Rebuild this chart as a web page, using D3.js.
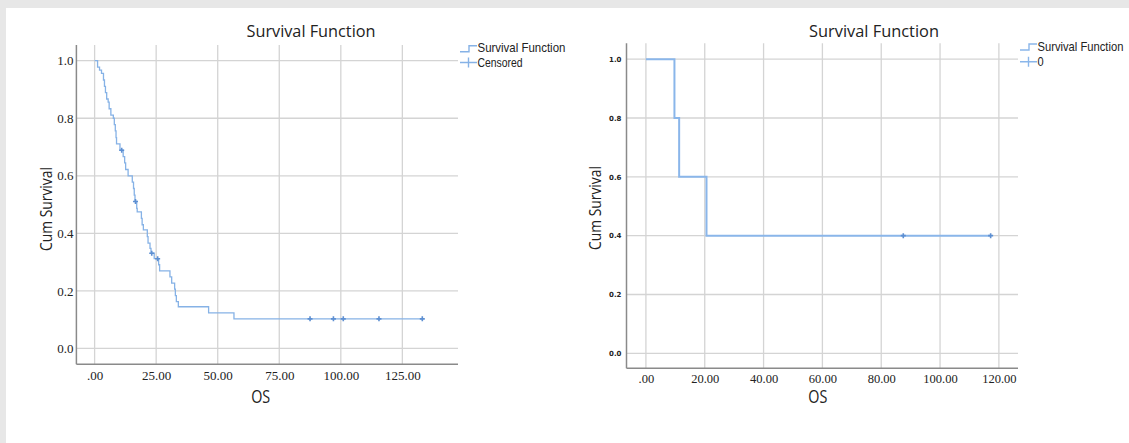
<!DOCTYPE html>
<html><head><meta charset="utf-8">
<script src="https://cdn.jsdelivr.net/npm/d3@7"></script>
<style>
html,body{margin:0;padding:0;background:#fff;}
svg{display:block;}
text{font-family:"Open Sans","Noto Sans",sans-serif;fill:#222;}
</style></head>
<body>
<svg id="chart" width="1129" height="443"></svg>
<script>
// ---------- data ----------
const chartTitle = "Survival Function";
const xLabel = "OS";
const yLabel = "Cum Survival";

// Left panel: Kaplan-Meier steps (time, cumulative survival after the step)
const leftTimes = [0, 1.2, 2.0, 2.8, 3.6, 4.0, 4.4, 4.9, 5.5, 5.9, 6.6, 7.6, 8.0, 8.4, 8.7, 8.9, 10.3, 11.6, 12.2, 12.6, 13.6, 15.3, 15.8, 16.1, 16.4, 17.1, 17.3, 19.0, 19.3, 19.8, 21.4, 21.7, 22.5, 22.9, 24.2, 26.0, 26.4, 30.6, 31.3, 32.5, 32.8, 33.2, 34.0, 46.3, 56.6];
const leftSurv  = [1.0, 0.978, 0.967, 0.956, 0.933, 0.911, 0.889, 0.867, 0.856, 0.833, 0.811, 0.800, 0.778, 0.756, 0.733, 0.711, 0.689, 0.667, 0.645, 0.622, 0.600, 0.578, 0.556, 0.533, 0.511, 0.487, 0.475, 0.452, 0.430, 0.412, 0.389, 0.366, 0.348, 0.331, 0.312, 0.291, 0.270, 0.249, 0.227, 0.206, 0.184, 0.163, 0.145, 0.124, 0.103];
const leftEnd = 133.1;
const leftCensTimes = [11.0, 16.6, 23.2, 25.6, 87.5, 97.0, 101.0, 115.5, 133.1];
const leftCensSurv  = [0.689, 0.511, 0.331, 0.312, 0.103, 0.103, 0.103, 0.103, 0.103];
const leftXTicks = [0, 25, 50, 75, 100, 125];
const leftLegend = ["Survival Function", "Censored"];

// Right panel
const rightTimes = [0, 9.7, 11.3, 20.6];
const rightSurv  = [1.0, 0.8, 0.6, 0.4];
const rightEnd = 117.2;
const rightCensTimes = [87.5, 117.2];
const rightCensSurv  = [0.4, 0.4];
const rightXTicks = [0, 20, 40, 60, 80, 100, 120];
const rightLegend = ["Survival Function", "0"];

const yTicks = [0, 0.2, 0.4, 0.6, 0.8, 1.0];

// ---------- drawing ----------
const svg = d3.select("#chart");
svg.append("rect").attr("x",0).attr("y",0).attr("width",1129).attr("height",443).attr("fill","#e7e7e7");
svg.append("rect").attr("x",6).attr("y",8).attr("width",1123).attr("height",435).attr("fill","#fff");

// condensed text: draw at natural width, then squeeze horizontally to a target width
function narrowText(parent, x, y, str, size, targetW){
  const g = parent.append("g").attr("transform",`translate(${x},${y})`);
  const t = g.append("text").style("font-family","'Liberation Sans',Arial,sans-serif").style("font-size",size+"px").text(str);
  const w = t.node().getComputedTextLength();
  const s = targetW ? Math.min(1, targetW / w) : 0.85;
  t.attr("transform",`scale(${s},1)`);
  return t;
}

function panel(cfg){
  const g = svg.append("g");
  const x = d3.scaleLinear().domain(cfg.xDom).range([cfg.left, cfg.right]);
  const y = d3.scaleLinear().domain(cfg.yDom).range([cfg.bottom, cfg.top]);
  const grid = "#d4d4d4";
  g.selectAll(".hg").data(yTicks).join("line")
    .attr("x1",cfg.left).attr("x2",cfg.right)
    .attr("y1",d=>y(d)).attr("y2",d=>y(d))
    .attr("stroke",grid).attr("stroke-width",1.3);
  g.selectAll(".vg").data(cfg.xTicks).join("line")
    .attr("y1",cfg.top).attr("y2",cfg.bottom)
    .attr("x1",d=>x(d)).attr("x2",d=>x(d))
    .attr("stroke",grid).attr("stroke-width",1.3);
  const yAxis = d3.axisLeft(y).tickValues(yTicks).tickSize(0).tickPadding(cfg.yPad).tickFormat(d3.format(".1f"));
  const yg = g.append("g").attr("transform",`translate(${cfg.left},0)`).call(yAxis);
  yg.select(".domain").remove();
  yg.selectAll("text").style("font-family",cfg.yFont).style("font-size",cfg.yFontSize+"px")
    .style("font-weight",cfg.yWeight).attr("fill","#333");
  const xAxis = d3.axisBottom(x).tickValues(cfg.xTicks).tickSize(0).tickPadding(cfg.xPad)
    .tickFormat(d=> d===0 ? ".00" : d3.format(".2f")(d));
  const xg = g.append("g").attr("transform",`translate(0,${cfg.bottom})`).call(xAxis);
  xg.select(".domain").remove();
  xg.selectAll("text").style("font-family","'Liberation Serif',serif").style("font-size",cfg.xFontSize+"px").attr("fill","#333");
  g.append("line").attr("x1",cfg.left).attr("x2",cfg.left).attr("y1",cfg.top).attr("y2",cfg.bottom)
    .attr("stroke","#8a8a8a").attr("stroke-width",1.5);
  g.append("line").attr("x1",cfg.left).attr("x2",cfg.right).attr("y1",cfg.bottom).attr("y2",cfg.bottom)
    .attr("stroke","#8a8a8a").attr("stroke-width",1.5);
  const pts = cfg.times.map((t,i)=>[t,cfg.surv[i]]);
  pts.push([cfg.end, cfg.surv[cfg.surv.length-1]]);
  const line = d3.line().x(d=>x(d[0])).y(d=>y(d[1])).curve(d3.curveStepAfter);
  g.append("path").attr("d",line(pts)).attr("fill","none").attr("stroke",cfg.lineColor).attr("stroke-width",cfg.lineWidth);
  const cens = cfg.censT.map((t,i)=>[t,cfg.censS[i]]);
  g.selectAll(".cm").data(cens).join("path")
    .attr("d",d=>{const cx=x(d[0]), cy=y(d[1]); return `M${cx-2.5},${cy}H${cx+2.5}M${cx},${cy-2.5}V${cy+2.5}`;})
    .attr("stroke","#5d8fd2").attr("stroke-width",1.6);
  g.append("text").attr("x",cfg.titleX).attr("y",37).attr("text-anchor","middle")
    .style("font-size","17px").attr("textLength",cfg.titleW).attr("lengthAdjust","spacingAndGlyphs").text(chartTitle);
  g.append("text").attr("x",cfg.osX).attr("y",403).attr("text-anchor","middle")
    .style("font-size","18px").attr("textLength",19).attr("lengthAdjust","spacingAndGlyphs").text(xLabel);
  g.append("text").attr("transform",`translate(${cfg.ylabX},${cfg.ylabY}) rotate(-90)`).attr("text-anchor","middle")
    .style("font-size","16px").attr("textLength",84).attr("lengthAdjust","spacingAndGlyphs").text(yLabel);
  const lx = cfg.legX, r1 = cfg.legY1, r2 = cfg.legY2;
  g.append("path").attr("d",`M${lx},${r1+4}H${lx+9}V${r1-2}H${lx+17}`).attr("fill","none").attr("stroke",cfg.lineColor).attr("stroke-width",1.4);
  g.append("path").attr("d",`M${lx},${r2}H${lx+17}M${lx+8.5},${r2-5}V${r2+5}`).attr("fill","none").attr("stroke",cfg.lineColor).attr("stroke-width",1.4);
  narrowText(g, lx+17.5, r1+4.5, cfg.legend[0], 13, cfg.legW);
  narrowText(g, lx+17.5, r2+4.5, cfg.legend[1], 13, cfg.legend[1].length > 2 ? 45 : null);
}

panel({
  times:leftTimes, surv:leftSurv, end:leftEnd, censT:leftCensTimes, censS:leftCensSurv,
  xTicks:leftXTicks, legend:leftLegend,
  xDom:[-7.4,147.6], yDom:[-0.055,1.0546], left:76.4, right:458, top:45, bottom:364.3,
  yPad:3, yFont:"'Liberation Serif',serif", yFontSize:13, yWeight:"normal",
  xPad:6, xFontSize:13,
  lineColor:"#86b2e6", lineWidth:1.3,
  titleX:311, titleW:129, osX:260.7, ylabX:51.5, ylabY:209,
  legX:460, legY1:47.7, legY2:62.5, legW:88
});
panel({
  times:rightTimes, surv:rightSurv, end:rightEnd, censT:rightCensTimes, censS:rightCensSurv,
  xTicks:rightXTicks, legend:rightLegend,
  xDom:[-6.6,126.5], yDom:[-0.051,1.054], left:626.5, right:1018, top:43.3, bottom:368.3,
  yPad:5, yFont:"'DejaVu Sans',sans-serif", yFontSize:7, yWeight:"bold",
  xPad:6, xFontSize:12.5,
  lineColor:"#8ab6ea", lineWidth:2,
  titleX:874, titleW:130, osX:817.8, ylabX:601, ylabY:208,
  legX:1020, legY1:46, legY2:61.7, legW:86
});
</script>
</body></html>
